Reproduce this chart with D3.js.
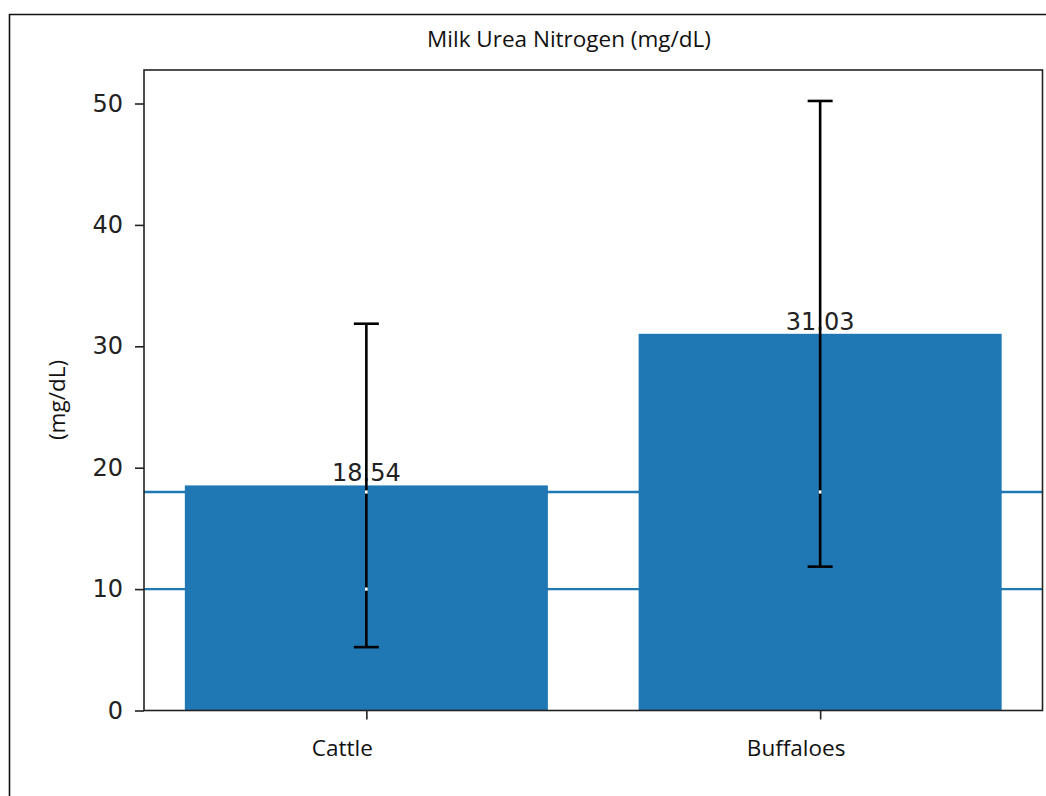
<!DOCTYPE html>
<html><head><meta charset="utf-8">
<script src="https://cdn.jsdelivr.net/npm/d3@7"></script>
<style>body{margin:0;background:#fff}</style></head>
<body><svg id="c" width="1046" height="796"></svg>
<script>
// ---- data ----
const categories = ["Cattle", "Buffaloes"];
const means = [18.54, 31.03];
const errors = [13.32, 19.18];
const refLines = [18, 10];
const yTicks = [0, 10, 20, 30, 40, 50];
const title = "Milk Urea Nitrogen (mg/dL)";
const yLabel = "(mg/dL)";

// ---- layout ----
const W = 1046, H = 796;
const plot = {left: 144, right: 1042.5, top: 70, bottom: 710.5};
const blue = "#1f77b4";
const txt = "#222";
const catFont = "'Open Sans', sans-serif";
const numFont = "'DejaVu Sans', sans-serif";
const errW = 2.6;

const svg = d3.select("#c");

// outer frame (extends past image on right and bottom)
svg.append("path")
  .attr("d", `M9.5,${H + 5} V14.5 H${W + 5}`)
  .attr("fill", "none").attr("stroke", "#111").attr("stroke-width", 1.6);

const x = d3.scaleLinear().domain([-0.49, 1.49]).range([plot.left, plot.right]);
const y = d3.scaleLinear().domain([0, 52.76]).range([plot.bottom, plot.top]);
const barW = x(0.4) - x(-0.4);

// reference lines (behind bars)
svg.append("g").selectAll("line").data(refLines).join("line")
  .attr("x1", plot.left).attr("x2", plot.right)
  .attr("y1", d => y(d)).attr("y2", d => y(d))
  .attr("stroke", blue).attr("stroke-width", 2.3);

// bars
svg.append("g").selectAll("rect").data(means).join("rect")
  .attr("x", (d, i) => x(i) - barW / 2)
  .attr("width", barW)
  .attr("y", d => y(d))
  .attr("height", d => y(0) - y(d))
  .attr("fill", blue);

// value labels
svg.append("g").selectAll("text").data(means).join("text")
  .attr("x", (d, i) => x(i))
  .attr("y", d => y(d) - 4)
  .attr("text-anchor", "middle")
  .attr("font-family", numFont).attr("font-size", 24).attr("fill", txt)
  .text(d => d.toFixed(2));

// error bars
const eg = svg.append("g").attr("stroke", "#000").attr("stroke-width", errW);
means.forEach((m, i) => {
  const cx = x(i);
  eg.append("line").attr("x1", cx).attr("x2", cx)
    .attr("y1", y(m - errors[i])).attr("y2", y(m + errors[i]));
  [m - errors[i], m + errors[i]].forEach(v => {
    eg.append("line").attr("x1", cx - 12.5).attr("x2", cx + 12.5)
      .attr("y1", y(v)).attr("y2", y(v));
  });
  // small white gaps where the reference lines cross the error bar
  refLines.forEach(r => {
    if (r > m - errors[i] && r < m + errors[i]) {
      svg.append("rect").attr("x", cx - errW / 2).attr("width", errW)
        .attr("y", y(r) - 1.6).attr("height", 3.2).attr("fill", "#fff");
    }
  });
});

// spines
svg.append("rect")
  .attr("x", plot.left).attr("y", plot.top)
  .attr("width", plot.right - plot.left).attr("height", plot.bottom - plot.top)
  .attr("fill", "none").attr("stroke", "#222").attr("stroke-width", 1.6);

// y axis ticks
const ya = svg.append("g").attr("transform", `translate(${plot.left},0)`)
  .call(d3.axisLeft(y).tickValues(yTicks).tickSize(9).tickPadding(12).tickFormat(d3.format("d")));
ya.select(".domain").remove();
ya.selectAll(".tick line").attr("stroke", "#222").attr("stroke-width", 1.6);
ya.selectAll(".tick text").attr("font-family", numFont).attr("font-size", 24).attr("fill", txt);

// x axis ticks
const xa = svg.append("g").attr("transform", `translate(0,${plot.bottom})`)
  .call(d3.axisBottom(x).tickValues(categories.map((c, i) => i)).tickSize(9).tickFormat(() => ""));
xa.select(".domain").remove();
xa.selectAll(".tick line").attr("stroke", "#222").attr("stroke-width", 1.6);

// category labels (shifted left as in reference)
svg.append("g").selectAll("text").data(categories).join("text")
  .attr("x", (d, i) => x(i) - 24)
  .attr("y", 755.5)
  .attr("text-anchor", "middle")
  .attr("font-family", catFont).attr("font-size", 22.5).attr("fill", "#111")
  .text(d => d);

// title
svg.append("text").attr("x", 569).attr("y", 47.3)
  .attr("text-anchor", "middle")
  .attr("font-family", catFont).attr("font-size", 22.5).attr("fill", "#111")
  .text(title);

// y label
svg.append("text")
  .attr("transform", "translate(65,400) rotate(-90)")
  .attr("text-anchor", "middle")
  .attr("font-family", catFont).attr("font-size", 22.5).attr("fill", "#111")
  .text(yLabel);
</script></body></html>
